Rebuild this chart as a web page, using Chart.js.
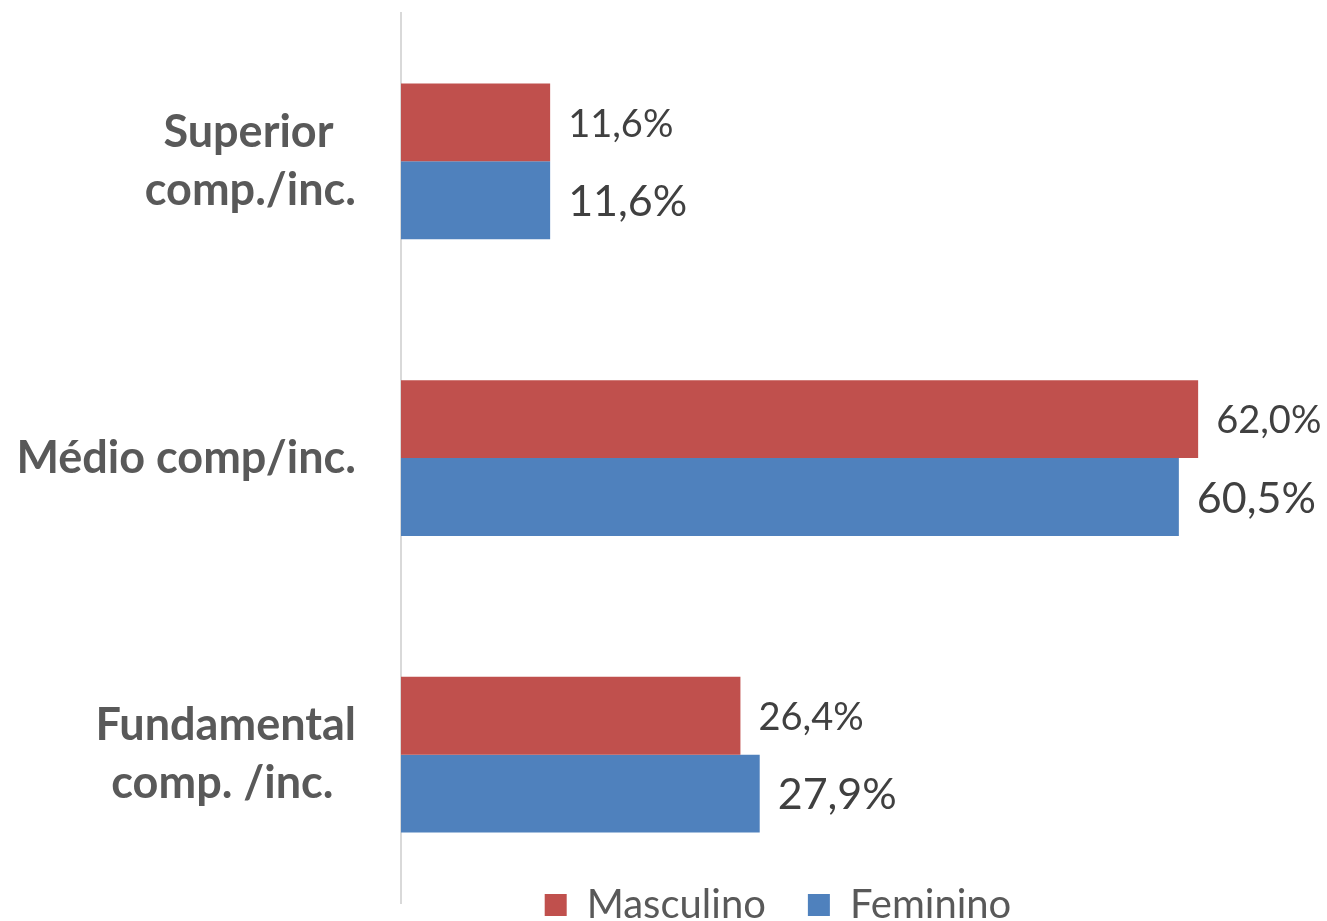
<!DOCTYPE html>
<html>
<head>
<meta charset="utf-8">
<script src="https://cdn.jsdelivr.net/npm/chart.js@4/dist/chart.umd.min.js"></script>
<style>
  html, body { margin: 0; padding: 0; background: #fff; overflow: hidden; }
</style>
</head>
<body>
<canvas id="escolaridade" width="1327" height="995"></canvas>
<script>
// escolaridade por sexo
const categorias = [['Superior', 'comp./inc.'], ['Médio comp/inc.'], ['Fundamental', 'comp. /inc.']];
const masculino = [11.6, 62.0, 26.4];
const feminino = [11.6, 60.5, 27.9];
const xMax = 70;

// labels at the end of each bar, "11,6%" style
const barLabels = {
  id: 'barLabels',
  afterDatasetsDraw(chart) {
    const ctx = chart.ctx;
    ctx.save();
    chart.data.datasets.forEach((ds, i) => {
      const meta = chart.getDatasetMeta(i);
      ctx.font = ds.labelSize + 'px Lato';
      ctx.fillStyle = '#404040';
      ctx.textAlign = 'left';
      ctx.textBaseline = 'middle';
      meta.data.forEach((bar, j) => {
        const txt = ds.data[j].toFixed(1).replace('.', ',') + '%';
        ctx.fillText(txt, bar.x + 18, bar.y + 2);
      });
    });
    ctx.restore();
  }
};

// excel puts the legend a bit over the plot bottom, move it there
const legendSpot = {
  id: 'legendSpot',
  afterLayout(chart) {
    const lg = chart.legend;
    const dy = lg.top - 843;
    lg.top -= dy; lg.bottom -= dy;
    const dx = (lg.left + lg.right) / 2 - 778;
    lg.left -= dx; lg.right -= dx;
  }
};

new Chart(document.getElementById('escolaridade'), {
  type: 'bar',
  data: {
    labels: categorias,
    datasets: [
      {
        label: 'Masculino',
        data: masculino,
        backgroundColor: '#C0504D',
        labelSize: 38,
        categoryPercentage: 0.525,
        barPercentage: 1
      },
      {
        label: 'Feminino',
        data: feminino,
        backgroundColor: '#4F81BD',
        labelSize: 43,
        categoryPercentage: 0.525,
        barPercentage: 1
      }
    ]
  },
  options: {
    indexAxis: 'y',
    responsive: false,
    animation: false,
    devicePixelRatio: 1,
    layout: { padding: { top: 13, right: 26, left: 0, bottom: 0 } },
    scales: {
      x: { display: false, min: 0, max: xMax },
      y: {
        grid: { display: false },
        border: { display: true, color: '#D9D9D9', width: 2 },
        ticks: {
          autoSkip: false,
          padding: 37,
          color: '#595959',
          font: { family: 'Lato', size: 45, weight: 'bold', lineHeight: 1.29 },
          // excel centers the two lines of a label; pad the shorter one
          callback(value) {
            const lines = categorias[value];
            if (lines.length < 2) return lines;
            const shortIdx = lines[0].length < lines[1].length ? 0 : 1;
            return lines.map((l, k) => k === shortIdx ? l + '\u2002' : l);
          }
        },
        afterFit(scale) {
          scale.width = 401;
          // labels sit mid-band, no need for extra room above/below
          scale.paddingTop = 0;
          scale.paddingBottom = 0;
        }
      }
    },
    plugins: {
      tooltip: { enabled: false },
      legend: {
        position: 'bottom',
        labels: {
          boxWidth: 22,
          boxHeight: 22,
          padding: 42,
          color: '#595959',
          font: { family: 'Lato', size: 40 }
        }
      }
    }
  },
  plugins: [barLabels, legendSpot]
});
</script>
</body>
</html>
